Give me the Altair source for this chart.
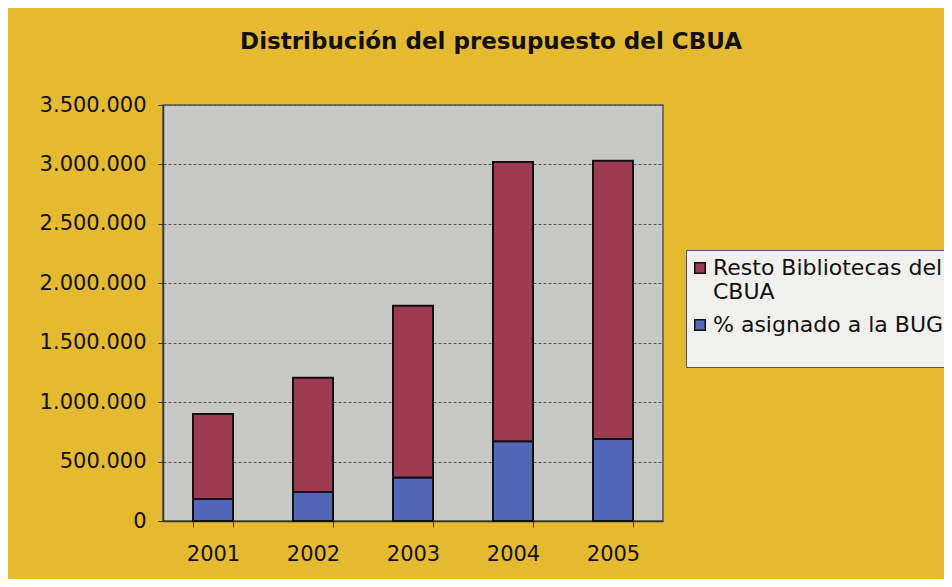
import altair as alt
import pandas as pd

years = ["2001", "2002", "2003", "2004", "2005"]
bug = [185000, 245000, 365000, 670000, 690000]
resto = [715000, 960000, 1445000, 2350000, 2340000]
series = ["Resto Bibliotecas del CBUA", "% asignado a la BUG"]
colors = ["#9E3A52", "#5267B8"]
y_ticks = [0, 500000, 1000000, 1500000, 2000000, 2500000, 3000000, 3500000]

rows = []
for i, yr in enumerate(years):
    rows.append({"anio": yr, "serie": series[1], "valor": bug[i], "orden": 0})
    rows.append({"anio": yr, "serie": series[0], "valor": resto[i], "orden": 1})
df = pd.DataFrame(rows)

FONT = "DejaVu Sans"
label_expr = (
    "datum.label == 'Resto Bibliotecas del CBUA' ? ['Resto Bibliotecas del', 'CBUA'] "
    ": [datum.label, '']"
)

chart = alt.Chart(df).mark_bar(stroke="#111111", strokeWidth=2).encode(
    x=alt.X("anio:N", title=None,
            scale=alt.Scale(paddingInner=0.6, paddingOuter=0.3),
            axis=alt.Axis(labelAngle=0, labelFontSize=21, labelFont=FONT, labelColor="#111",
                          tickBand="extent", tickSize=6, tickColor="#333", labelPadding=16,
                          domainColor="#333", domainWidth=1.5)),
    y=alt.Y("valor:Q", title=None, stack="zero",
            scale=alt.Scale(domain=[0, 3500000], nice=False),
            axis=alt.Axis(values=y_ticks, labelFontSize=21, labelFont=FONT, labelColor="#111",
                          labelExpr="replace(format(datum.value, ','), regexp(',', 'g'), '.')",
                          tickSize=5, tickColor="#333", labelPadding=12,
                          domainColor="#333", domainWidth=1.5,
                          grid=True, gridColor="#555", gridDash=[3, 2], gridWidth=1)),
    color=alt.Color("serie:N", title=None,
                    scale=alt.Scale(domain=series, range=colors),
                    legend=alt.Legend(orient="none", legendX=523, legendY=145,
                                      fillColor="#F0F0EC", strokeColor="#555",
                                      padding=7, symbolType="square", symbolSize=110,
                                      symbolStrokeColor="#111", symbolStrokeWidth=1.5,
                                      symbolOpacity=1, symbolOffset=-4, labelOffset=2,
                                      labelFontSize=22, labelFont=FONT, labelColor="#111",
                                      labelLimit=600, rowPadding=11,
                                      labelExpr=label_expr)),
    order=alt.Order("orden:Q", sort="ascending"),
).properties(
    width=500,
    height=416,
    background="#E5BA31",
    padding={"left": 155, "top": 97, "right": 281, "bottom": 58},
    autosize=alt.AutoSizeParams(type="none"),
    title=alt.TitleParams("Distribución del presupuesto del CBUA", font=FONT, fontSize=23,
                          fontWeight="bold", color="#111", anchor="middle", dx=78, offset=40),
).configure_view(
    fill="#C8C9C6", stroke="#555", strokeWidth=1.5
)

chart.save("out.html", embed_options={"renderer": "svg", "actions": False})
